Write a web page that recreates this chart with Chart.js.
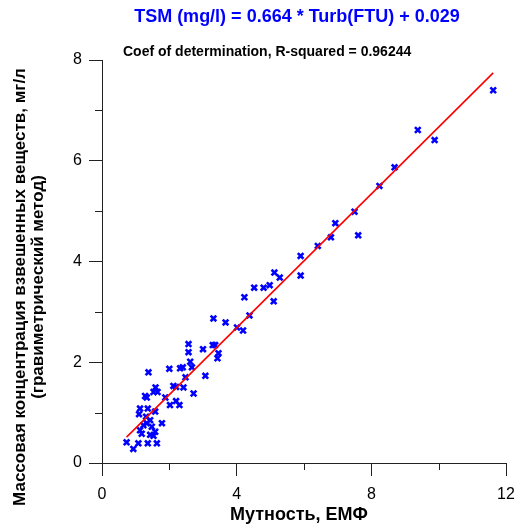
<!DOCTYPE html>
<html>
<head>
<meta charset="utf-8">
<script src="https://cdn.jsdelivr.net/npm/chart.js@4/dist/chart.umd.min.js"></script>
<style>
  html, body { margin: 0; padding: 0; background: #fff; }
  #wrap { width: 515px; height: 525px; }
</style>
</head>
<body>
<div id="wrap"><canvas id="turbChart" width="515" height="525"></canvas></div>
<script>
// Turbidity (EMF) vs. suspended matter concentration
const turbidity = [
  0.73, 0.93, 1.08, 1.36, 1.63, 1.18, 1.43, 1.53, 1.13, 1.58,
  1.48, 1.23, 1.33, 1.78, 1.43, 1.31, 1.10, 1.58, 1.13, 1.36,
  2.02, 2.30, 2.20, 1.88, 1.33, 1.28, 2.72, 1.53, 1.65, 1.59,
  2.12, 2.20, 2.42, 3.07, 2.48, 1.38, 2.00, 2.32, 2.40, 2.67,
  2.62, 3.43, 3.46, 2.57, 3.00, 3.29, 3.36, 2.57, 4.19, 4.01,
  3.67, 3.31, 4.38, 5.10, 4.23, 4.52, 4.80, 4.98, 5.28, 5.12,
  5.90, 5.90, 6.41, 6.80, 7.61, 6.93, 7.50, 8.24, 8.69, 9.38,
  9.88, 11.62
];
const tsm = [
  0.41, 0.28, 0.39, 0.39, 0.39, 0.58, 0.56, 0.54, 0.65, 0.62,
  0.72, 0.75, 0.79, 0.79, 0.85, 0.92, 0.97, 1.02, 1.08, 1.08,
  1.15, 1.15, 1.23, 1.30, 1.30, 1.33, 1.38, 1.41, 1.41, 1.50,
  1.53, 1.51, 1.50, 1.73, 1.70, 1.80, 1.87, 1.88, 1.90, 1.90,
  2.01, 2.08, 2.18, 2.20, 2.26, 2.34, 2.34, 2.36, 2.63, 2.69,
  2.79, 2.87, 2.93, 3.21, 3.29, 3.48, 3.48, 3.53, 3.68, 3.78,
  3.72, 4.11, 4.31, 4.48, 4.52, 4.76, 4.99, 5.50, 5.87, 6.61,
  6.41, 7.40
];

// regression from the chart title
const fitSlope = 0.664;
const fitIntercept = 0.029;

const xTicks = [0, 4, 8, 12];
const xMinorTicks = [2, 6, 10];
const yTicks = [0, 2, 4, 6, 8];
const yMinorTicks = [1, 3, 5, 7];

const titleText = 'TSM (mg/l) = 0.664 * Turb(FTU) + 0.029';
const subtitleText = 'Coef of determination, R-squared = 0.96244';
const xTitle = 'Мутность, ЕМФ';
const yTitleLines = ['Массовая концентрация взвешенных веществ, мг/л', '(гравиметрический метод)'];

const fontFamily = '"Liberation Sans", Arial, sans-serif';
const axisColor = '#222';

const scatterPoints = turbidity.map((x, i) => ({ x, y: tsm[i] }));
const fitStart = Math.min(...turbidity);
const fitEnd = Math.max(...turbidity);
const fitLine = [fitStart, fitEnd].map((x) => ({ x, y: fitSlope * x + fitIntercept }));

// Titles, rotated y title and the short minor ticks
const decorations = {
  id: 'decorations',
  afterDraw(chart) {
    const { ctx, chartArea, scales } = chart;
    ctx.save();

    ctx.strokeStyle = axisColor;
    ctx.lineWidth = 1;
    ctx.beginPath();
    xMinorTicks.forEach((v) => {
      const px = Math.round(scales.x.getPixelForValue(v)) + 0.5;
      ctx.moveTo(px, chartArea.bottom);
      ctx.lineTo(px, chartArea.bottom + 7);
    });
    yMinorTicks.forEach((v) => {
      const py = Math.round(scales.y.getPixelForValue(v)) + 0.5;
      ctx.moveTo(chartArea.left - 7, py);
      ctx.lineTo(chartArea.left, py);
    });
    ctx.stroke();

    ctx.textBaseline = 'middle';
    ctx.textAlign = 'center';
    ctx.fillStyle = '#0000ff';
    ctx.font = 'bold 18px ' + fontFamily;
    ctx.fillText(titleText, 297, 17);

    ctx.textAlign = 'left';
    ctx.fillStyle = '#000';
    ctx.font = 'bold 14px ' + fontFamily;
    ctx.fillText(subtitleText, 123, 52);

    ctx.textAlign = 'center';
    ctx.font = 'bold 18px ' + fontFamily;
    ctx.fillText(xTitle, 299, 515);

    ctx.font = 'bold 17px ' + fontFamily;
    ctx.translate(20, 287);
    ctx.rotate(-Math.PI / 2);
    ctx.fillText(yTitleLines[0], 0, 0);
    ctx.fillText(yTitleLines[1], 0, 18);
    ctx.restore();
  }
};

const axisGrid = {
  display: true,
  drawOnChartArea: false,
  drawTicks: true,
  tickLength: 13,
  color: axisColor,
  lineWidth: 1
};

new Chart(document.getElementById('turbChart'), {
  data: {
    datasets: [
      {
        type: 'line',
        data: fitLine,
        borderColor: '#ff0000',
        borderWidth: 1.6,
        pointRadius: 0,
        fill: false,
        order: 0
      },
      {
        type: 'scatter',
        data: scatterPoints,
        pointStyle: 'crossRot',
        pointRadius: 4,
        borderColor: '#0000ff',
        backgroundColor: '#0000ff',
        borderWidth: 2.6,
        order: 1
      }
    ]
  },
  options: {
    responsive: false,
    animation: false,
    layout: { padding: { top: 60, right: 0, left: 0, bottom: 0 } },
    plugins: {
      legend: { display: false },
      title: { display: false },
      tooltip: { enabled: false }
    },
    scales: {
      x: {
        type: 'linear',
        min: 0,
        max: 12,
        afterBuildTicks: (scale) => { scale.ticks = xTicks.map((value) => ({ value })); },
        afterFit: (scale) => {
          scale.height = 62;
          scale.paddingLeft = 0;
          scale.paddingRight = 9;
        },
        grid: axisGrid,
        border: { display: true, color: axisColor, width: 1 },
        ticks: { color: '#000', padding: 9, font: { family: fontFamily, size: 16 } }
      },
      y: {
        type: 'linear',
        min: 0,
        max: 8,
        afterBuildTicks: (scale) => { scale.ticks = yTicks.map((value) => ({ value })); },
        afterFit: (scale) => {
          scale.width = 102;
          scale.paddingTop = 0;
          scale.paddingBottom = 0;
        },
        grid: axisGrid,
        border: { display: true, color: axisColor, width: 1 },
        ticks: { color: '#000', padding: 7, font: { family: fontFamily, size: 16 } }
      }
    }
  },
  plugins: [decorations]
});
</script>
</body>
</html>
